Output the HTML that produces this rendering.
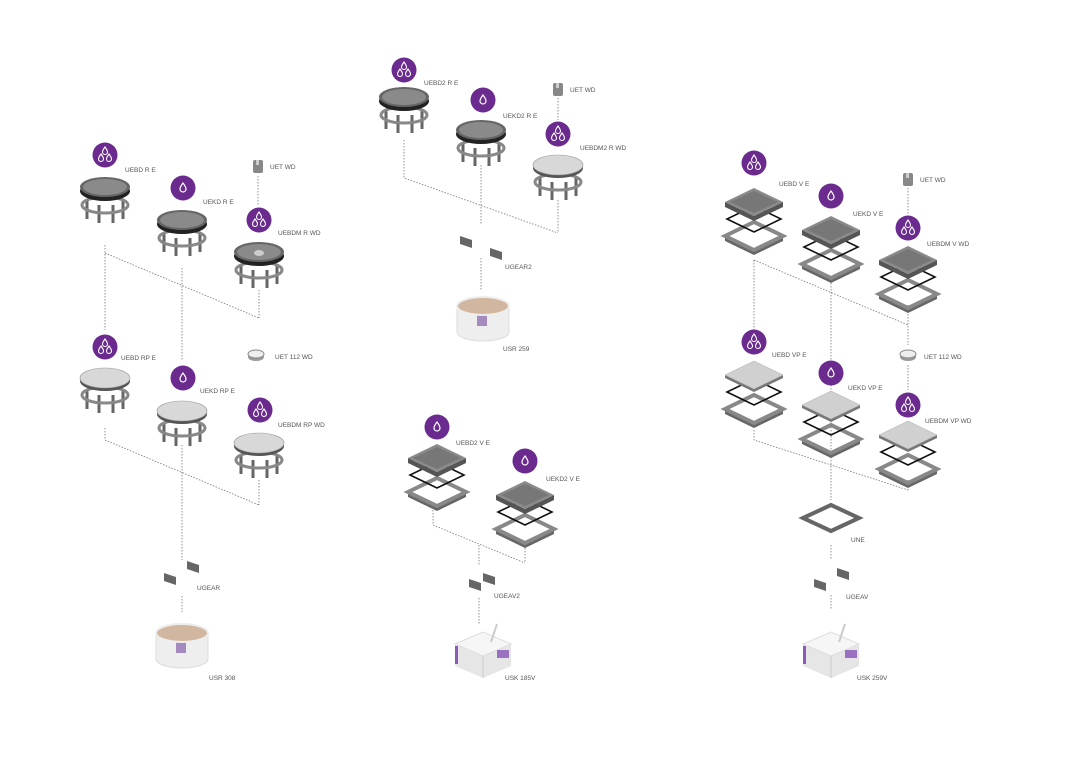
<!DOCTYPE html>
<html><head><meta charset="utf-8"><style>
html,body{margin:0;padding:0;background:#fff;}
svg{display:block;}
text{font-family:"Liberation Sans",sans-serif;font-size:6.5px;fill:#555;}
</style></head><body>
<svg width="1080" height="763" viewBox="0 0 1080 763" xmlns="http://www.w3.org/2000/svg">
<defs>
<g id="b3"><circle r="12.5" fill="#6a2a8e"/>
<g fill="none" stroke="#fff" stroke-width="1.1"><path d="M0,-8 q-2.5,3.5 -2.5,5 a2.5,2.5 0 0 0 5,0 q0,-1.5 -2.5,-5z"/><path d="M-4,-1 q-2.5,3.5 -2.5,5 a2.5,2.5 0 0 0 5,0 q0,-1.5 -2.5,-5z"/><path d="M4,-1 q-2.5,3.5 -2.5,5 a2.5,2.5 0 0 0 5,0 q0,-1.5 -2.5,-5z"/></g></g>
<g id="b1"><circle r="12.5" fill="#6a2a8e"/><path d="M0,-5 q-3,4 -3,6 a3,3 0 0 0 6,0 q0,-2 -3,-6z" fill="none" stroke="#fff" stroke-width="1.2"/></g>
<g id="rt"><g stroke="#666" stroke-width="3" fill="none"><line x1="-18" y1="6" x2="-18" y2="24"/><line x1="18" y1="6" x2="18" y2="24"/><line x1="-6" y1="10" x2="-6" y2="28"/><line x1="8" y1="10" x2="8" y2="28"/></g>
<ellipse cx="0" cy="10" rx="23" ry="8" fill="none" stroke="#888" stroke-width="3"/>
<ellipse cx="0" cy="-4" rx="25" ry="10" fill="#222"/><ellipse cx="0" cy="-8" rx="25" ry="10" fill="#666"/><ellipse cx="0" cy="-8" rx="22" ry="8" fill="#8a8a8a"/></g>
<g id="rp"><g stroke="#666" stroke-width="3" fill="none"><line x1="-18" y1="6" x2="-18" y2="24"/><line x1="18" y1="6" x2="18" y2="24"/><line x1="-6" y1="10" x2="-6" y2="28"/><line x1="8" y1="10" x2="8" y2="28"/></g>
<ellipse cx="0" cy="10" rx="23" ry="8" fill="none" stroke="#888" stroke-width="3"/>
<ellipse cx="0" cy="-4" rx="25" ry="10" fill="#555"/><ellipse cx="0" cy="-7" rx="25" ry="10" fill="#d8d8d8" stroke="#999" stroke-width=".6"/></g>
<g id="st"><path d="M-29,14 L0,28 L29,14 L29,19 L0,33 L-29,19Z" fill="#666"/><path d="M-29,14 L0,0 L29,14 L0,28Z" fill="none" stroke="#888" stroke-width="4"/>
<path d="M-27,-3 L0,10 L27,-3 L0,-16Z" fill="none" stroke="#111" stroke-width="1.6"/>
<path d="M-29,-20 L0,-6 L29,-20 L29,-15 L0,-1 L-29,-15Z" fill="#555"/><path d="M-29,-20 L0,-34 L29,-20 L0,-6Z" fill="#8a8a8a"/><path d="M-24,-20 L0,-31 L24,-20 L0,-9Z" fill="#777"/></g>
<g id="sp"><path d="M-29,14 L0,28 L29,14 L29,19 L0,33 L-29,19Z" fill="#666"/><path d="M-29,14 L0,0 L29,14 L0,28Z" fill="none" stroke="#888" stroke-width="4"/>
<path d="M-27,-3 L0,10 L27,-3 L0,-16Z" fill="none" stroke="#111" stroke-width="1.6"/>
<path d="M-29,-20 L0,-6 L29,-20 L29,-17 L0,-3 L-29,-17Z" fill="#777"/><path d="M-29,-20 L0,-34 L29,-20 L0,-6Z" fill="#d0d0d0" stroke="#aaa" stroke-width=".5"/></g>
<g id="cup"><rect x="-5" y="-7" width="10" height="13" rx="2" fill="#888"/><rect x="-2" y="-7" width="3" height="5" fill="#ccc"/></g>
<g id="ring"><ellipse cx="0" cy="2" rx="8" ry="4" fill="#999"/><ellipse cx="0" cy="-1" rx="8" ry="4" fill="#eee" stroke="#888"/></g>
<g id="cyl"><path d="M-26,-12 L-26,14 A26,9 0 0 0 26,14 L26,-12Z" fill="#eee" stroke="#ddd"/><rect x="-6" y="-4" width="10" height="12" fill="#a58ac0"/><ellipse cx="0" cy="-12" rx="26" ry="9" fill="#d2b7a0" stroke="#eee" stroke-width="2"/></g>
<g id="box"><path d="M-28,-6 L0,-18 L28,-6 L28,16 L0,28 L-28,16Z" fill="#e6e6e6"/><path d="M-28,-6 L0,6 L28,-6 L0,-18Z" fill="#f6f6f6" stroke="#ddd"/><path d="M0,6 L0,28" stroke="#ccc"/><rect x="-28" y="-4" width="3" height="18" fill="#8a5ab5"/><rect x="14" y="0" width="12" height="8" fill="#9a70c0"/><line x1="8" y1="-8" x2="14" y2="-26" stroke="#ccc" stroke-width="2"/></g>
<g id="br"><path d="M-6,-4 L6,0 L6,8 L-6,4Z" fill="#666"/></g>
</defs>
<g fill="none" stroke="#777" stroke-width=".8" stroke-dasharray="1.5,1.5">
<path d="M105,245V330 M105,253L259,318 M182,268V360 M259,290V318 M258,176V205 M105,428V440L259,505 M259,480V505 M182,445V560 M182,596V612"/>
<path d="M404,140V178L558,233 M481,165V225 M558,200V233 M558,98V120 M481,258V290"/>
<path d="M433,510V525L525,563 M525,545V563 M479,545V565 M479,598V625"/>
<path d="M754,260V330 M754,260L908,325 M831,280V500 M908,305V345 M908,188V214 M754,430V440L908,490 M908,480V490 M908,365V390 M831,545V560 M831,595V610"/>
</g>
<use href="#b3" x="105" y="155"/><text x="125" y="172">UEBD R E</text><use href="#rt" x="105" y="195"/>
<use href="#b1" x="183" y="188"/><text x="203" y="204">UEKD R E</text><use href="#rt" x="182" y="228"/>
<use href="#cup" x="258" y="167"/><text x="270" y="169">UET WD</text>
<use href="#b3" x="259" y="220"/><text x="278" y="235">UEBDM R WD</text><use href="#rt" x="259" y="260"/><ellipse cx="259" cy="253" rx="5" ry="3" fill="#ccc"/>
<use href="#b3" x="105" y="347"/><text x="121" y="360">UEBD RP E</text><use href="#rp" x="105" y="385"/>
<use href="#b1" x="183" y="378"/><text x="200" y="393">UEKD RP E</text><use href="#rp" x="182" y="418"/>
<use href="#ring" x="256" y="355"/><text x="275" y="359">UET 112 WD</text>
<use href="#b3" x="260" y="410"/><text x="278" y="427">UEBDM RP WD</text><use href="#rp" x="259" y="450"/>
<use href="#br" x="170" y="577"/><use href="#br" x="193" y="565"/><text x="197" y="590">UGEAR</text>
<use href="#cyl" x="182" y="645"/><text x="209" y="680">USR 308</text>
<use href="#b3" x="404" y="70"/><text x="424" y="85">UEBD2 R E</text><use href="#rt" x="404" y="105"/>
<use href="#b1" x="483" y="100"/><text x="503" y="118">UEKD2 R E</text><use href="#rt" x="481" y="138"/>
<use href="#cup" x="558" y="90"/><text x="570" y="92">UET WD</text>
<use href="#b3" x="558" y="134"/><text x="580" y="150">UEBDM2 R WD</text><use href="#rp" x="558" y="172"/>
<use href="#br" x="466" y="240"/><use href="#br" x="496" y="252"/><text x="505" y="269">UGEAR2</text>
<use href="#cyl" x="483" y="318"/><text x="503" y="351">USR 259</text>
<use href="#b1" x="437" y="427"/><text x="456" y="445">UEBD2 V E</text><use href="#st" x="437" y="478"/>
<use href="#b1" x="525" y="461"/><text x="546" y="481">UEKD2 V E</text><use href="#st" x="525" y="515"/>
<use href="#br" x="475" y="583"/><use href="#br" x="489" y="577"/><text x="494" y="598">UGEAV2</text>
<use href="#box" x="483" y="650"/><text x="505" y="680">USK 185V</text>
<use href="#b3" x="754" y="163"/><text x="779" y="186">UEBD V E</text><use href="#st" x="754" y="222"/>
<use href="#b1" x="831" y="196"/><text x="853" y="216">UEKD V E</text><use href="#st" x="831" y="250"/>
<use href="#cup" x="908" y="180"/><text x="920" y="182">UET WD</text>
<use href="#b3" x="908" y="228"/><text x="927" y="246">UEBDM V WD</text><use href="#st" x="908" y="280"/>
<use href="#b3" x="754" y="342"/><text x="772" y="357">UEBD VP E</text><use href="#sp" x="754" y="395"/>
<use href="#b1" x="831" y="373"/><text x="848" y="390">UEKD VP E</text><use href="#sp" x="831" y="425"/>
<use href="#ring" x="908" y="355"/><text x="924" y="359">UET 112 WD</text>
<use href="#b3" x="908" y="405"/><text x="925" y="423">UEBDM VP WD</text><use href="#sp" x="908" y="455"/>
<path d="M803,518 L831,505 L859,518 L831,531Z" fill="none" stroke="#666" stroke-width="4"/><text x="851" y="542">UNE</text>
<use href="#br" x="820" y="583"/><use href="#br" x="843" y="572"/><text x="846" y="599">UGEAV</text>
<use href="#box" x="831" y="650"/><text x="857" y="680">USK 259V</text>
</svg>
</body></html>
